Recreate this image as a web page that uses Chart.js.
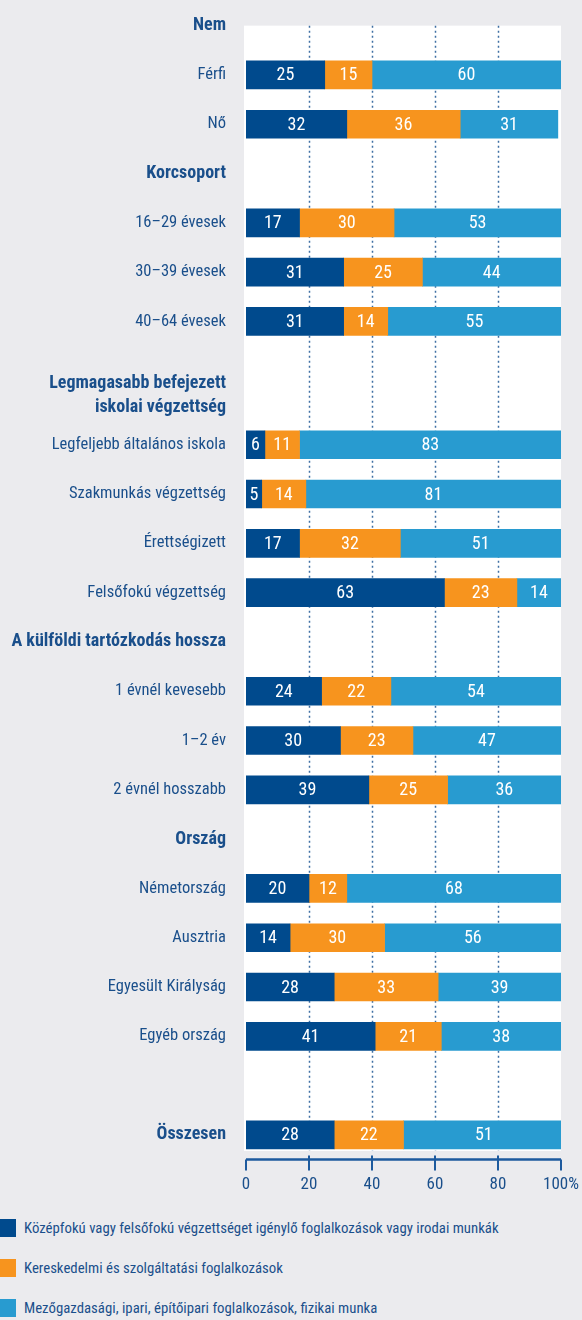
<!DOCTYPE html>
<html>
<head>
<meta charset="utf-8">
<script src="https://cdn.jsdelivr.net/npm/chart.js@4.4.1/dist/chart.umd.min.js"></script>
<style>
  body { margin: 0; background: #ebebee; width: 582px; height: 1320px; overflow: hidden;
         font-family: 'Roboto Condensed', 'Liberation Sans Narrow', 'DejaVu Sans Condensed', sans-serif; }
  #wrap { position: absolute; left: 0; top: 0; width: 582px; height: 1216px; }
  #legend { position: absolute; left: 0; top: 1219px; }
  .item { display: flex; align-items: center; height: 18px; margin-bottom: 22px;
          font-size: 14.8px; color: #1a4f8b; white-space: nowrap; }
  .box { width: 16px; height: 18px; margin-right: 8px; }
</style>
</head>
<body>
<div id="wrap"><canvas id="chart"></canvas></div>
<div id="legend"></div>
<script>
// Sorok (a fejléceknek nincs értéke)
var kategoriak = ['Nem', 'Férfi', 'Nő', 'Korcsoport', '16–29 évesek', '30–39 évesek', '40–64 évesek',
  ['Legmagasabb befejezett', 'iskolai végzettség'], 'Legfeljebb általános iskola', 'Szakmunkás végzettség',
  'Érettségizett', 'Felsőfokú végzettség', 'A külföldi tartózkodás hossza', '1 évnél kevesebb', '1–2 év',
  '2 évnél hosszabb', 'Ország', 'Németország', 'Ausztria', 'Egyesült Királyság', 'Egyéb ország', '', 'Összesen'];
var felkover = ['Nem', 'Korcsoport', 'Legmagasabb befejezett', 'A külföldi tartózkodás hossza', 'Ország', 'Összesen'];

var sorozatok = ['Középfokú vagy felsőfokú végzettséget igénylő foglalkozások vagy irodai munkák',
  'Kereskedelmi és szolgáltatási foglalkozások',
  'Mezőgazdasági, ipari, építőipari foglalkozások, fizikai munka'];

var kozepfoku    = [null, 25, 32, null, 17, 31, 31, null, 6, 5, 17, 63, null, 24, 30, 39, null, 20, 14, 28, 41, null, 28];
var kereskedelmi = [null, 15, 36, null, 30, 25, 14, null, 11, 14, 32, 23, null, 22, 23, 25, null, 12, 30, 33, 21, null, 22];
var fizikai      = [null, 60, 31, null, 53, 44, 55, null, 83, 81, 51, 14, null, 54, 47, 36, null, 68, 56, 39, 38, null, 51];

var xTicks = [0, 20, 40, 60, 80, 100];

var szinek = ['#004a8d', '#f7941e', '#289bd0'];
var szoveg = '#1a4f8b';
var betu = "'Roboto Condensed', 'Liberation Sans Narrow', 'DejaVu Sans Condensed', sans-serif";

// sorok helye: a kétsoros fejléc másfél sort foglal
var hely = [];
var p = 0;
kategoriak.forEach(function(k, i) {
    if (i > 0) p += Array.isArray(k) ? 1.5 : 1;
    hely.push(p);
});

function pontok(arr) {
    var out = [];
    arr.forEach(function(v, i) {
        if (v !== null) out.push({ x: v, y: hely[i] });
    });
    return out;
}

function cimke(i) {
    var k = kategoriak[i];
    return Array.isArray(k) ? k[0] : k;
}

// fehér háttér, szaggatott rács, tengely
var hatter = {
    id: 'hatter',
    beforeDatasetsDraw: function(chart) {
        var ctx = chart.ctx, xs = chart.scales.x, ys = chart.scales.y, a = chart.chartArea;
        var top = ys.getPixelForValue(hely[0]);
        var bottom = ys.getPixelForValue(hely[hely.length - 1]) + 16;
        ctx.save();
        ctx.fillStyle = '#ffffff';
        ctx.fillRect(a.left - 2, top, a.right - a.left + 2, bottom - top);
        ctx.strokeStyle = '#3f6fa3';
        ctx.lineWidth = 1.5;
        ctx.setLineDash([2, 3]);
        xTicks.slice(1, -1).forEach(function(t) {
            var x = Math.round(xs.getPixelForValue(t)) + 0.5;
            ctx.beginPath();
            ctx.moveTo(x, top);
            ctx.lineTo(x, bottom);
            ctx.stroke();
        });
        ctx.restore();
    },
    afterDraw: function(chart) {
        var ctx = chart.ctx, xs = chart.scales.x, a = chart.chartArea;
        var y = a.bottom;
        ctx.save();
        ctx.strokeStyle = '#1d5a9e';
        ctx.lineWidth = 2.5;
        ctx.beginPath();
        ctx.moveTo(xs.getPixelForValue(0), y);
        ctx.lineTo(xs.getPixelForValue(100), y);
        ctx.stroke();
        ctx.lineWidth = 2;
        xTicks.forEach(function(t, i) {
            var x = xs.getPixelForValue(t);
            var end = (i === 0 || i === xTicks.length - 1);
            ctx.beginPath();
            ctx.moveTo(x, end ? y : y - 4);
            ctx.lineTo(x, y + 11);
            ctx.stroke();
        });
        ctx.restore();
    }
};

// értékek a sávokon
var ertekek = {
    id: 'ertekek',
    afterDatasetsDraw: function(chart) {
        var ctx = chart.ctx;
        ctx.save();
        ctx.fillStyle = '#ffffff';
        ctx.font = '18px ' + betu;
        ctx.textAlign = 'center';
        ctx.textBaseline = 'middle';
        chart.data.datasets.forEach(function(ds, di) {
            var meta = chart.getDatasetMeta(di);
            meta.data.forEach(function(el, i) {
                var pr = el.getProps(['x', 'base', 'y'], true);
                ctx.fillText(ds.data[i].x, (pr.x + pr.base) / 2, pr.y + 1);
            });
        });
        ctx.restore();
    }
};

var ctx = document.getElementById('chart').getContext('2d');
var myChart = new Chart(ctx, {
    type: 'bar',
    data: {
        datasets: [
            { label: sorozatok[0], data: pontok(kozepfoku), backgroundColor: szinek[0] },
            { label: sorozatok[1], data: pontok(kereskedelmi), backgroundColor: szinek[1] },
            { label: sorozatok[2], data: pontok(fizikai), backgroundColor: szinek[2] }
        ]
    },
    plugins: [hatter, ertekek],
    options: {
        indexAxis: 'y',
        responsive: true,
        maintainAspectRatio: false,
        animation: false,
        barThickness: 28,
        layout: { padding: { top: 0, right: 21, bottom: 6, left: 0 } },
        plugins: { legend: { display: false }, tooltip: { enabled: false } },
        scales: {
            x: {
                stacked: true,
                min: 0,
                max: 100,
                afterBuildTicks: function(scale) {
                    scale.ticks = xTicks.map(function(v) { return { value: v }; });
                },
                afterFit: function(scale) { scale.paddingLeft = 0; scale.paddingRight = 0; },
                grid: { display: false, drawTicks: false },
                border: { display: false },
                ticks: {
                    padding: 15,
                    color: szoveg,
                    font: { family: betu, size: 17 },
                    callback: function(v) { return v === 100 ? '100%' : v; }
                }
            },
            y: {
                type: 'linear',
                stacked: true,
                reverse: true,
                offset: false,
                min: -0.52,
                max: 23.0,
                afterBuildTicks: function(scale) {
                    scale.ticks = hely.map(function(v) { return { value: v }; });
                },
                afterFit: function(scale) {
                    scale.width = 246;
                    scale.paddingTop = 0;
                    scale.paddingBottom = 0;
                },
                grid: { display: false, drawTicks: false, offset: false },
                border: { display: false },
                ticks: {
                    autoSkip: false,
                    padding: 20,
                    color: szoveg,
                    font: function(c) {
                        var bold = felkover.indexOf(cimke(c.index)) >= 0;
                        return { family: betu, size: bold ? 18 : 16.5, weight: bold ? 'bold' : 'normal', lineHeight: 1.33 };
                    },
                    callback: function(v, i) { return kategoriak[i]; }
                }
            }
        }
    }
});

// jelmagyarázat
var leg = document.getElementById('legend');
sorozatok.forEach(function(s, i) {
    var d = document.createElement('div');
    d.className = 'item';
    d.innerHTML = '<span class="box" style="background:' + szinek[i] + '"></span>' + s;
    leg.appendChild(d);
});
</script>
</body>
</html>
